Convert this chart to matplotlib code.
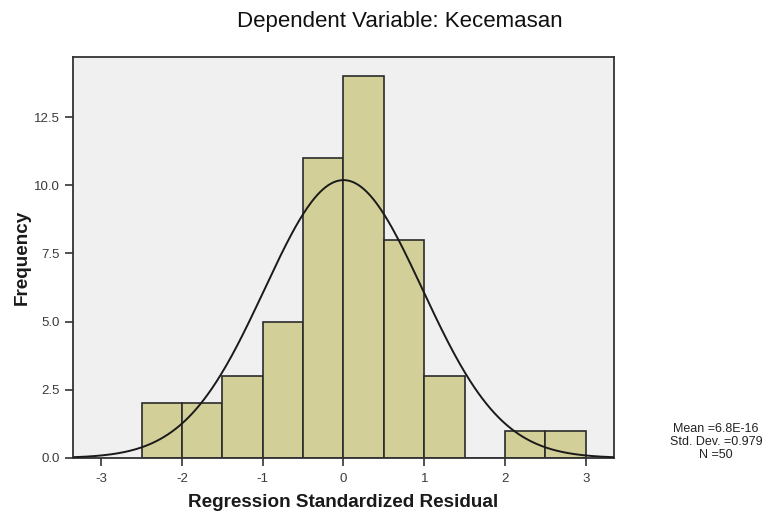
import numpy as np
import matplotlib
matplotlib.use("Agg")
import matplotlib.pyplot as plt

# Data
bin_edges = [-2.5, -2.0, -1.5, -1.0, -0.5, 0.0, 0.5, 1.0, 1.5, 2.0, 2.5, 3.0]
counts = [2, 2, 3, 5, 11, 14, 8, 3, 0, 1, 1]
mean = 6.8e-16
std = 0.979
n = 50
y_ticks = [0.0, 2.5, 5.0, 7.5, 10.0, 12.5]
x_ticks = [-3, -2, -1, 0, 1, 2, 3]

plt.rcParams['font.family'] = ['Liberation Sans', 'DejaVu Sans']

fig = plt.figure(figsize=(7.74, 5.18), dpi=100)
ax = fig.add_axes([73/774, 60/518, (614-73)/774, (458-57)/518])
ax.set_facecolor('#F0F0F0')

lefts = np.array(bin_edges[:-1])
widths = np.diff(bin_edges)
ax.bar(lefts, counts, width=widths, align='edge', color='#D3CF99',
       edgecolor='#2b2b2b', linewidth=1.2, zorder=2)

bw = widths[0]
xs = np.linspace(-3.35, 3.35, 400)
ys = n * bw / (std * np.sqrt(2 * np.pi)) * np.exp(-0.5 * ((xs - mean) / std) ** 2)
ax.plot(xs, ys, color='#1a1a1a', linewidth=1.4, zorder=3)

ax.set_xlim(-3.35, 3.35)
ax.set_ylim(0, 14.7)
ax.set_xticks(x_ticks)
ax.set_xticklabels([str(t) for t in x_ticks])
ax.set_yticks(y_ticks)
ax.set_yticklabels([f"{t:.1f}" for t in y_ticks])
ax.tick_params(axis='both', direction='out', length=6, width=1.2,
               color='#333333', labelsize=9.5, labelcolor='#3a3a3a')
ax.tick_params(axis='x', pad=5)
for s in ax.spines.values():
    s.set_color('#333333')
    s.set_linewidth(1.3)

ax.set_xlabel('Regression Standardized Residual', fontsize=13.6,
              fontweight='bold', color='#1a1a1a')
ax.xaxis.set_label_coords(0.5, (458 - 494) / 401)
ax.set_ylabel('Frequency', fontsize=13.6, fontweight='bold',
              color='#1a1a1a', va='center')
ax.yaxis.set_label_coords((22 - 73) / 541, (458 - 257) / 401)

fig.text(400/774, 1 - 21/518, 'Dependent Variable: Kecemasan',
         ha='center', va='center', fontsize=16, color='#111111')

fig.text(716/774, 1 - 442/518,
         f"Mean =6.8E-16\nStd. Dev. =0.979\nN ={n}",
         ha='center', va='center', fontsize=9, color='#222222',
         linespacing=1.15)

fig.savefig('out.png', dpi=100)
